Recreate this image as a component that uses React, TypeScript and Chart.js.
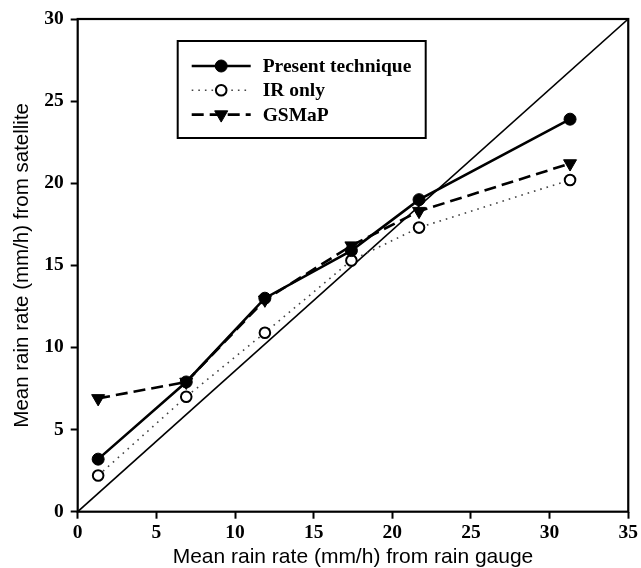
import React, { useEffect, useRef } from 'react';
import { Chart, registerables } from 'chart.js';

Chart.register(...registerables);

const gaugeRates = [1.3, 6.9, 11.9, 17.4, 21.7, 31.3];
const presentTechnique = [3.2, 7.9, 13.0, 15.9, 19.0, 23.9];
const irOnly = [2.2, 7.0, 10.9, 15.3, 17.3, 20.2];
const gsmap = [6.9, 7.9, 12.9, 16.2, 18.3, 21.2];
const referenceLineX = [0, 35];
const referenceLineY = [0, 30];
const seriesLabels = ['Present technique', 'IR only', 'GSMaP'];
const xTitle = 'Mean rain rate (mm/h) from rain gauge';
const yTitle = 'Mean rain rate (mm/h) from satellite';

const toPoints = (xs: number[], ys: number[]) => xs.map((x, i) => ({ x, y: ys[i] }));

function drawMarker(ctx: CanvasRenderingContext2D, style: string, x: number, y: number, r: number, fill: string, stroke: string, lw: number) {
  ctx.save();
  ctx.beginPath();
  if (style === 'triangle') {
    ctx.moveTo(x - r * 0.87, y - r * 0.5);
    ctx.lineTo(x + r * 0.87, y - r * 0.5);
    ctx.lineTo(x, y + r);
    ctx.closePath();
  } else {
    ctx.arc(x, y, r, 0, Math.PI * 2);
  }
  ctx.fillStyle = fill;
  ctx.fill();
  ctx.lineWidth = lw;
  ctx.strokeStyle = stroke;
  ctx.setLineDash([]);
  ctx.stroke();
  ctx.restore();
}

const framePlugin = {
  id: 'frame',
  beforeDatasetsDraw(chart: any) {
    const { ctx, chartArea } = chart;
    ctx.save();
    ctx.strokeStyle = '#000';
    ctx.lineWidth = 2.2;
    ctx.strokeRect(chartArea.left, chartArea.top, chartArea.right - chartArea.left, chartArea.bottom - chartArea.top);
    ctx.restore();
  },
};

const legendPlugin = {
  id: 'boxLegend',
  afterDraw(chart: any) {
    const { ctx, chartArea } = chart;
    const bx = chartArea.left + 100;
    const by = chartArea.top + 22;
    const bw = 248;
    const bh = 97;
    ctx.save();
    ctx.fillStyle = '#fff';
    ctx.fillRect(bx, by, bw, bh);
    ctx.strokeStyle = '#000';
    ctx.lineWidth = 2;
    ctx.strokeRect(bx, by, bw, bh);
    const rows = [0, 1, 2];
    rows.forEach((i) => {
      const ds = chart.data.datasets[i];
      const y = by + 25 + i * 24.3;
      const x0 = bx + 14;
      const x1 = bx + 73;
      ctx.save();
      ctx.beginPath();
      ctx.strokeStyle = ds.borderColor;
      ctx.lineWidth = ds.borderWidth;
      ctx.setLineDash(ds.borderDash || []);
      ctx.lineCap = ds.borderCapStyle || 'butt';
      ctx.moveTo(x0, y);
      ctx.lineTo(x1, y);
      ctx.stroke();
      ctx.restore();
      drawMarker(ctx, ds.pointStyle, (x0 + x1) / 2, y, ds.pointRadius, ds.pointBackgroundColor, ds.pointBorderColor, ds.pointBorderWidth);
      ctx.fillStyle = '#000';
      ctx.font = 'bold 19.5px "Liberation Serif", "Times New Roman", serif';
      ctx.textBaseline = 'middle';
      ctx.textAlign = 'left';
      ctx.fillText(ds.label, bx + 85, y + 1);
    });
    ctx.restore();
  },
};

export default function App() {
  const canvasRef = useRef<HTMLCanvasElement | null>(null);

  useEffect(() => {
    const canvas = canvasRef.current;
    if (!canvas) return;
    const tickFont = { family: '"Liberation Serif", "Times New Roman", serif', size: 19.5, weight: 'bold' as const, lineHeight: 1.2 };
    const xTitleFont = { family: '"Liberation Sans", Arial, sans-serif', size: 21, lineHeight: 1 };
    const yTitleFont = { family: '"Liberation Sans", Arial, sans-serif', size: 20.5, lineHeight: 1 };
    const chart = new Chart(canvas, {
      type: 'scatter',
      data: {
        datasets: [
          {
            label: seriesLabels[0],
            data: toPoints(gaugeRates, presentTechnique),
            showLine: true,
            borderColor: '#000',
            borderWidth: 2.6,
            pointStyle: 'circle',
            pointRadius: 6,
            pointBackgroundColor: '#000',
            pointBorderColor: '#000',
            pointBorderWidth: 1,
          } as any,
          {
            label: seriesLabels[1],
            data: toPoints(gaugeRates, irOnly),
            showLine: true,
            borderColor: '#444',
            borderWidth: 1.6,
            borderDash: [1.6, 5],
            pointStyle: 'circle',
            pointRadius: 5.3,
            pointBackgroundColor: '#fff',
            pointBorderColor: '#000',
            pointBorderWidth: 2,
          } as any,
          {
            label: seriesLabels[2],
            data: toPoints(gaugeRates, gsmap),
            showLine: true,
            borderColor: '#000',
            borderWidth: 2.6,
            borderDash: [12, 6],
            pointStyle: 'triangle',
            rotation: 180,
            pointRadius: 7.5,
            pointBackgroundColor: '#000',
            pointBorderColor: '#000',
            pointBorderWidth: 1,
          } as any,
          {
            label: 'reference',
            data: toPoints(referenceLineX, referenceLineY),
            showLine: true,
            borderColor: '#000',
            borderWidth: 1.6,
            pointRadius: 0,
            pointHoverRadius: 0,
          } as any,
        ],
      },
      options: {
        responsive: false,
        animation: false,
        devicePixelRatio: 1,
        layout: { padding: { top: 19, right: 10, left: 0, bottom: 0 } },
        plugins: {
          legend: { display: false },
          tooltip: { enabled: false },
        },
        scales: {
          x: {
            type: 'linear',
            min: 0,
            max: 35,
            afterFit: (s: any) => { s.height = 56.3; },
            border: { display: false },
            grid: { display: true, drawOnChartArea: false, drawTicks: true, tickLength: 7, tickWidth: 2, tickColor: '#000' },
            ticks: { stepSize: 5, color: '#000', font: tickFont, padding: 3, maxRotation: 0 },
            title: { display: true, text: xTitle, color: '#000', font: xTitleFont, padding: { top: 0, bottom: 0 } },
          },
          y: {
            type: 'linear',
            min: 0,
            max: 30,
            afterFit: (s: any) => { s.width = 77.7; },
            border: { display: false },
            grid: { display: true, drawOnChartArea: false, drawTicks: true, tickLength: 7, tickWidth: 2, tickColor: '#000' },
            ticks: { stepSize: 5, color: '#000', font: tickFont, padding: 7 },
            title: { display: true, text: yTitle, color: '#000', font: yTitleFont, padding: { top: 12, bottom: 0 } },
          },
        },
      },
      plugins: [framePlugin, legendPlugin],
    });
    return () => chart.destroy();
  }, []);

  return (
    <div style={{ position: 'absolute', left: 0, top: 0, width: 641, height: 568, background: '#fff' }}>
      <canvas ref={canvasRef} width={641} height={568} style={{ display: 'block' }} />
    </div>
  );
}
